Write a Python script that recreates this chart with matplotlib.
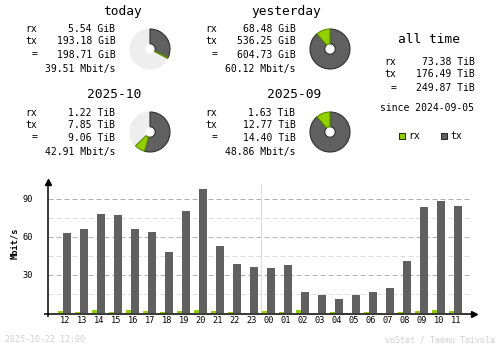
import matplotlib
matplotlib.use("Agg")
import matplotlib.pyplot as plt
from matplotlib.patches import Rectangle

# ---------------- data ----------------
hours = ['12', '13', '14', '15', '16', '17', '18', '19', '20', '21', '22', '23',
         '00', '01', '02', '03', '04', '05', '06', '07', '08', '09', '10', '11']
tx_rate = [63.4, 66.3, 78.4, 77.6, 66.3, 64.2, 48.4, 80.8, 98.1, 52.9, 38.7, 36.3,
           35.8, 37.9, 16.6, 14.5, 11.1, 14.5, 16.6, 20.0, 41.3, 83.9, 88.7, 84.7]
rx_rate = [1.8, 1.0, 2.5, 1.0, 2.5, 1.8, 1.0, 1.8, 2.5, 1.8, 1.0, 0.0,
           1.8, 1.0, 2.5, 0.0, 1.0, 0.0, 1.0, 0.0, 1.0, 1.8, 2.5, 1.8]
y_ticks = [30, 60, 90]
y_minor = [15, 45, 75]

# summary blocks: rx, tx, total, rate
today = [5.54, 193.18, 198.71, 39.51]
yesterday = [68.48, 536.25, 604.73, 60.12]
month_cur = [1.22, 7.85, 9.06, 42.91]
month_prev = [1.63, 12.77, 14.40, 48.86]
all_time = [73.38, 176.49, 249.87]
since_date = "2024-09-05"
stamp = "2025-10-22 12:00"

# ---------------- style ----------------
W, H = 500, 348
C_RX = "#92cf00"
C_RX_EDGE = "#5c8a00"
C_TX = "#606060"
C_TX_EDGE = "#303030"
C_BG_PIE = "#eeeeee"
C_LINE = "#b0b0b0"
C_LINEL = "#dcdcdc"
C_FOOT = "#d0d0d0"
MONO = "DejaVu Sans Mono"
FS_SMALL = 7.0
FS_TITLE = 9.3

fig = plt.figure(figsize=(W / 100, H / 100), dpi=100)
fig.patch.set_facecolor("white")


def fx(x):
    return x / W


def fy(y):
    return 1 - y / H


def ftext(x, y, s, ha="left", size=FS_SMALL, color="black", **kw):
    fig.text(fx(x), fy(y), s, ha=ha, va="center", fontsize=size,
             family=MONO, color=color, **kw)


def pie(cx, cy, vals, ref_total, r=24):
    a = fig.add_axes([fx(cx - r - 1), fy(cy + r + 1), (2 * r + 2) / W, (2 * r + 2) / H])
    a.set_xlim(-1.05, 1.05)
    a.set_ylim(-1.05, 1.05)
    a.set_aspect("equal")
    a.axis("off")
    rx, tx, tot = vals[0], vals[1], vals[2]
    parts = [tx, rx]
    cols = [C_TX, C_RX]
    edges = [C_TX_EDGE, C_RX_EDGE]
    rest = ref_total - tot
    if rest > 0:
        parts.append(rest)
        cols.append(C_BG_PIE)
        edges.append(C_BG_PIE)
    wedges, _ = a.pie(parts, colors=cols, startangle=90, counterclock=False,
                      radius=1.0, wedgeprops=dict(width=0.74, linewidth=0.8))
    for w, e in zip(wedges, edges):
        w.set_edgecolor(e)
    if rest > 0:
        wedges[-1].set_zorder(0)


def block(title, vals, unit, title_right, label_right, val_right, ys, title_y):
    ftext(title_right, title_y, title, ha="right", size=FS_TITLE)
    labels = ["rx", "tx", "="]
    for lab, v, y in zip(labels, vals[:3], ys[:3]):
        ftext(label_right, y, lab, ha="right")
        ftext(val_right, y, f"{v:.2f} {unit}", ha="right")
    ftext(val_right, ys[3], f"{vals[3]:.2f} Mbit/s", ha="right")


# summary blocks
block("today", today, "GiB", 141.5, 37, 115.5, [29, 41.5, 54.5, 69], 11)
block("yesterday", yesterday, "GiB", 321, 217, 295.5, [29, 41.5, 54.5, 69], 11)
block("2025-10", month_cur, "TiB", 141.5, 37, 115.5, [112.5, 124.5, 137.5, 152.5], 94.5)
block("2025-09", month_prev, "TiB", 321, 217, 295.5, [112.5, 124.5, 137.5, 152.5], 94.5)

day_ref = max(today[2], yesterday[2])
mon_ref = max(month_cur[2], month_prev[2])
pie(150, 49, today, day_ref)
pie(330, 49, yesterday, day_ref)
pie(150, 132, month_cur, mon_ref)
pie(330, 132, month_prev, mon_ref)

# all time
ftext(429, 39.5, "all time", ha="center", size=FS_TITLE)
for lab, v, y in zip(["rx", "tx", "="], all_time, [62, 74, 88]):
    ftext(396, y, lab, ha="right")
    ftext(474.5, y, f"{v:.2f} TiB", ha="right")
ftext(474.5, 108, f"since {since_date}", ha="right")

# legend
for x0, col, lab in [(399, C_RX, "rx"), (441, C_TX, "tx")]:
    fig.patches.append(Rectangle((fx(x0), fy(139)), 5.5 / W, 5.5 / H,
                                 transform=fig.transFigure, facecolor=col,
                                 edgecolor="#222222", linewidth=0.7))
    ftext(x0 + 9, 136, lab)

# ---------------- hourly bar chart ----------------
x0p, x1p, y0p, y1p = 42.9, 479.8, 180.0, 317.4
ax = fig.add_axes([fx(x0p), fy(y1p), (x1p - x0p) / W, (y1p - y0p) / H])
ax.set_xlim(-1.3, 24.4)
ax.set_ylim(-3.5, 105)
for s in ax.spines.values():
    s.set_visible(False)
ax.patch.set_alpha(0)

xs = list(range(len(hours)))
for yv in y_minor:
    ax.hlines(yv, -1, 23.9, colors=C_LINEL, linestyles=(0, (5, 3)), linewidth=0.72, zorder=1)
for yv in y_ticks:
    ax.hlines(yv, -1, 23.9, colors=C_LINE, linestyles=(0, (5, 3)), linewidth=0.72, zorder=1)

# midnight separator
ax.vlines(11.5, 0, 101.8, colors="#dddddd", linewidth=0.9, zorder=1)

ax.bar([x - 0.4 for x in xs], rx_rate, width=0.27, align="edge", color=C_RX, zorder=2, linewidth=0)
ax.bar([x - 0.11 for x in xs], tx_rate, width=0.45, align="edge", color=C_TX, zorder=2, linewidth=0)

# axes lines with arrows (x axis drawn just below the bar bases)
ax.plot([-1, -1], [-3.5, 103.5], color="black", lw=1.1, zorder=3, clip_on=False, solid_capstyle="butt")
ax.plot([-1.24, 24.0], [-0.6, -0.6], color="black", lw=1.1, zorder=3, clip_on=False, solid_capstyle="butt")
ax.plot([-1], [103.3], marker="^", color="black", markersize=4.5, zorder=4, clip_on=False)
ax.plot([24.05], [-0.6], marker=">", color="black", markersize=4.5, zorder=4, clip_on=False)

ax.set_xticks(xs)
ax.set_xticklabels(hours, family=MONO, fontsize=6.2)
ax.set_yticks(y_ticks)
ax.set_yticklabels([str(v) for v in y_ticks], family=MONO, fontsize=6.2)
ax.tick_params(axis="x", length=0, pad=-0.8)
ax.tick_params(axis="y", length=0, pad=7.3)

fig.text(fx(15), fy(243), "Mbit/s", rotation=90, ha="center", va="center",
         family=MONO, fontsize=6.2, fontweight="bold")

# footer
ftext(5, 340, stamp, size=6.0, color=C_FOOT)
ftext(495, 340, "vnStat / Teemu Toivola", ha="right", size=6.0, color=C_FOOT)

fig.savefig("out.png", dpi=100, facecolor="white")
